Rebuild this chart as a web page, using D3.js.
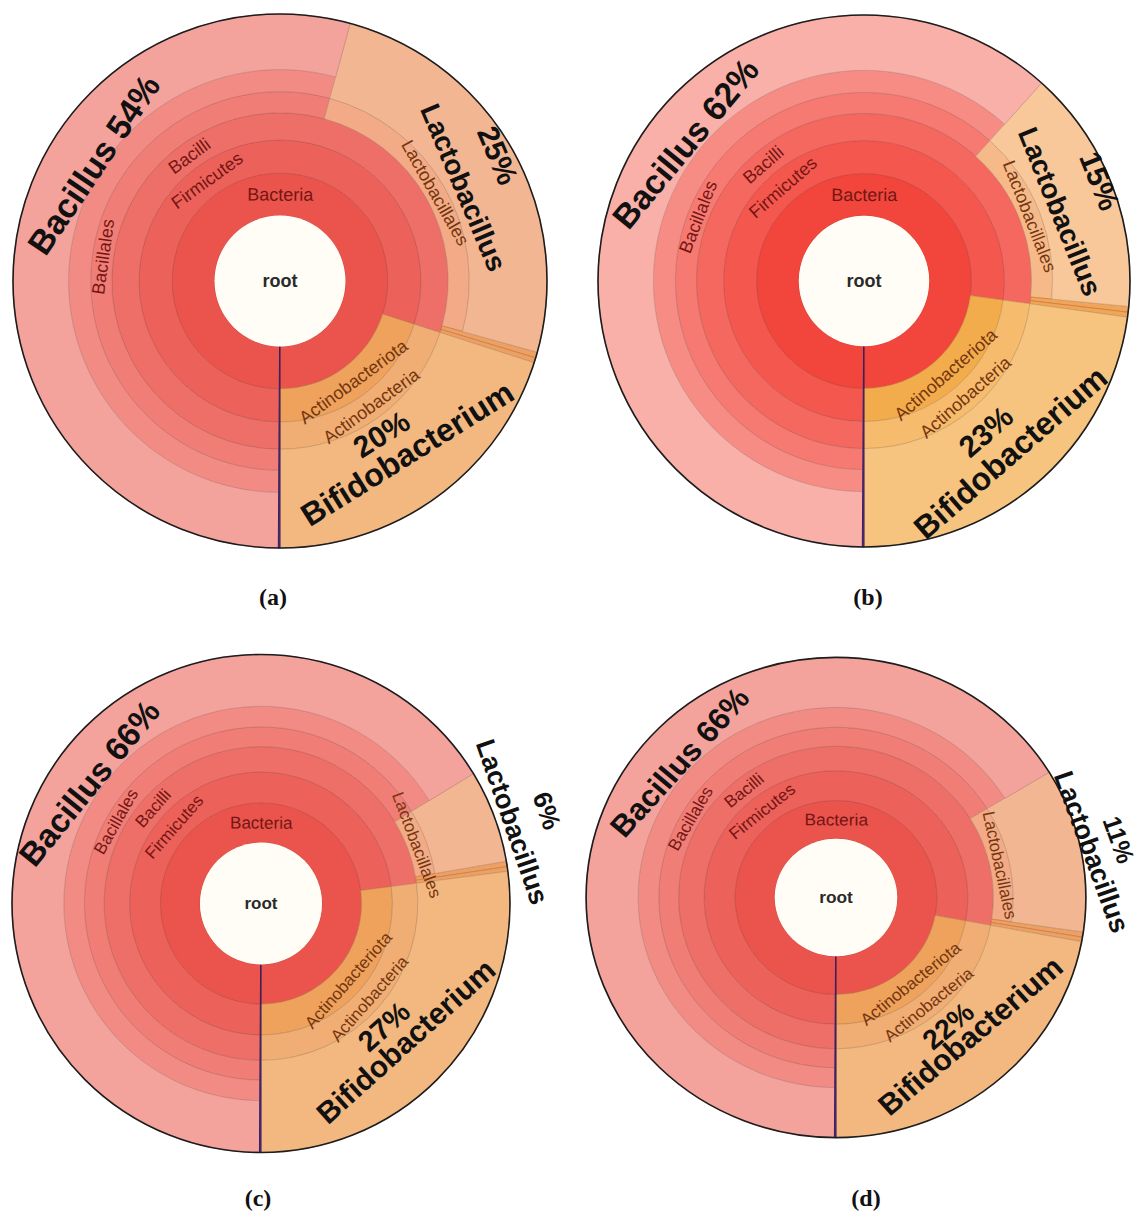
<!DOCTYPE html>
<html>
<head>
<meta charset="utf-8">
<script src="https://cdn.jsdelivr.net/npm/d3@7"></script>
<style>
  body { margin: 0; background: #fff; }
  svg { display: block; }
</style>
</head>
<body>
<svg id="chart" width="1139" height="1219"></svg>
<script>
// ---- data: relative abundance (%) of the dominant genera per sample ----
const samples = ["(a)", "(b)", "(c)", "(d)"];
const genera = ["Bacillus", "Lactobacillus", "Bifidobacterium"];
const bacillusPct = [54, 62, 66, 66];
const lactobacillusPct = [25, 15, 6, 11];
const bifidobacteriumPct = [20, 23, 27, 22];
// thin unlabelled slivers: two minor Bacilli orders, one unassigned read group
const minorBacilliPct = [[0.35, 0.3], [0.35, 0.3], [0.35, 0.3], [0.35, 0.3]];
const unassignedPct = [0.1, 0.1, 0.1, 0.1];

// ---- taxonomy (ranks shown in each wedge) ----
const lineageBacillus = ["Bacteria", "Firmicutes", "Bacilli", "Bacillales", "Bacillaceae", "Bacillus"];
const lineageLactobacillus = ["Bacteria", "Firmicutes", "Bacilli", "Lactobacillales", "Lactobacillus"];
const lineageBifidobacterium = ["Bacteria", "Actinobacteriota", "Actinobacteria", "Bifidobacterium"];
const lineageMinorBacilli = [
  ["Bacteria", "Firmicutes", "Bacilli", "minor order 1"],
  ["Bacteria", "Firmicutes", "Bacilli", "minor order 2"]
];
const lineageUnassigned = ["unassigned"];
const rankLabels = ["Bacteria", "Firmicutes", "Bacilli", "Bacillales", "Lactobacillales", "Actinobacteriota", "Actinobacteria"];

// ---- layout ----
// ring edges as fractions of the outer radius, indexed by depth
const ringEdges = [0.245, 0.404, 0.528, 0.63, 0.709, 0.792, 1.0];
const panelLayout = [
  { cx: 280, cy: 281,   R: 267, sx: 1,    sy: 1,    capX: 273, capY: 605,  scheme: "warm",   small: 18 },
  { cx: 864, cy: 281,   R: 266, sx: 1,    sy: 1,    capX: 868, capY: 605,  scheme: "bright", small: 18 },
  { cx: 261, cy: 903.5, R: 249, sx: 1,    sy: 1,    capX: 258, capY: 1206, scheme: "warm",   small: 17 },
  { cx: 836, cy: 897.5, R: 245, sx: 1.02, sy: 0.98, capX: 866, capY: 1206, scheme: "warm",   small: 17 }
];
// genus call-outs: [genus index, part, angle (deg), radius fraction, rotation (deg), font size]
const calloutLayout = [
  [[0, "both", -58, 0.82, -56, 34], [1, "pct", 60, 0.94, 67, 30], [1, "name", 63, 0.77, 67, 28],
   [2, "pct", 146.5, 0.69, -32, 30], [2, "name", 143.6, 0.805, -32, 32]],
  [[0, "both", -52.4, 0.845, -50.5, 34], [1, "pct", 67, 0.96, 68, 30], [1, "name", 70.5, 0.78, 68, 28],
   [2, "pct", 141, 0.73, -41, 30], [2, "name", 139.5, 0.85, -41, 32]],
  [[0, "both", -55, 0.84, -51, 33], [1, "pct", 72, 1.206, 71, 26], [1, "name", 72, 1.06, 71, 27],
   [2, "pct", 135, 0.70, -42, 29], [2, "name", 133.6, 0.805, -42, 30]],
  [[0, "both", -48, 0.84, -49, 31], [1, "pct", 78, 1.155, 71, 25], [1, "name", 79.5, 1.04, 70.5, 27],
   [2, "pct", 140, 0.70, -41, 28], [2, "name", 137, 0.79, -41, 30]]
];

// ---- colours ----
const schemes = {
  warm: {
    Bacteria: "#ea544c", Firmicutes: "#ec6159", Bacilli: "#ee6f67", Bacillales: "#f07e77",
    Bacillaceae: "#f28b84", Bacillus: "#f4a39c", Lactobacillales: "#f2ab86", Lactobacillus: "#f3b692",
    "minor order 1": "#eba066", "minor order 2": "#eba066",
    Actinobacteriota: "#eea25b", Actinobacteria: "#f0ad74", Bifidobacterium: "#f2b880",
    unassigned: "#5b2f7a"
  },
  bright: {
    Bacteria: "#f2463c", Firmicutes: "#f4574d", Bacilli: "#f5685f", Bacillales: "#f67a72",
    Bacillaceae: "#f78c84", Bacillus: "#f9b0a8", Lactobacillales: "#f6ba8a", Lactobacillus: "#f8c79a",
    "minor order 1": "#efa55a", "minor order 2": "#efa55a",
    Actinobacteriota: "#f3ac4c", Actinobacteria: "#f6bb6c", Bifidobacterium: "#f7c47f",
    unassigned: "#5b2f7a"
  }
};
const orangeSide = new Set(["Lactobacillales", "Lactobacillus", "Actinobacteriota", "Actinobacteria",
  "Bifidobacterium", "minor order 1", "minor order 2"]);

function buildTree(i) {
  const root = { name: "root", children: [] };
  const add = (path, value) => {
    let node = root;
    path.forEach(n => {
      let c = node.children.find(d => d.name === n);
      if (!c) { c = { name: n, children: [] }; node.children.push(c); }
      node = c;
    });
    node.value = value;
  };
  add(lineageUnassigned, unassignedPct[i]);
  add(lineageBacillus, bacillusPct[i]);
  add(lineageLactobacillus, lactobacillusPct[i]);
  lineageMinorBacilli.forEach((p, k) => add(p, minorBacilliPct[i][k]));
  add(lineageBifidobacterium, bifidobacteriumPct[i]);
  return root;
}

const svg = d3.select("#chart");
const toRad = d => d * Math.PI / 180;

samples.forEach((sample, i) => {
  const L = panelLayout[i];
  const col = schemes[L.scheme];
  const R = L.R;
  const g = svg.append("g").attr("transform", `translate(${L.cx},${L.cy}) scale(${L.sx},${L.sy})`);

  const hier = d3.hierarchy(buildTree(i)).sum(d => d.value || 0);
  d3.partition().size([2 * Math.PI, 1])(hier);

  const inner = d => ringEdges[d.depth - 1] * R;
  const outer = d => (d.children ? ringEdges[d.depth] : 1) * R;
  const arc = d3.arc()
    .startAngle(d => Math.PI + d.x0)
    .endAngle(d => Math.PI + d.x1)
    .innerRadius(inner)
    .outerRadius(outer);

  const nodes = hier.descendants().filter(d => d.depth > 0)
    .sort((a, b) => (a.data.name === "unassigned") - (b.data.name === "unassigned") || a.depth - b.depth);

  g.selectAll("path.node")
    .data(nodes)
    .join("path")
    .attr("class", "node")
    .attr("d", arc)
    .attr("fill", d => col[d.data.name])
    .attr("stroke", d => d.data.name === "unassigned" ? "#3b1f5e"
      : (d.data.name.startsWith("minor") ? "#cf7631" : d3.color(col[d.data.name]).darker(0.6)))
    .attr("stroke-width", d => d.data.name === "unassigned" ? 1 : 0.9)
    .attr("stroke-opacity", d => d.data.name === "unassigned" ? 1 : 0.75);

  // outer rim
  g.append("circle").attr("r", R).attr("fill", "none").attr("stroke", "#1d1d1d").attr("stroke-width", 1.6);

  // root disc
  g.append("circle").attr("r", ringEdges[0] * R).attr("fill", "#fffdf6");
  g.append("text").text("root")
    .attr("text-anchor", "middle").attr("dy", "0.35em")
    .style("font", `600 ${L.small}px 'Liberation Sans', Arial, sans-serif`)
    .attr("fill", "#2a2a2a");

  // rank labels, tangential at each wedge's mid-angle
  const labelled = nodes.filter(d => rankLabels.includes(d.data.name));
  g.selectAll("text.rank")
    .data(labelled)
    .join("text")
    .attr("class", "rank")
    .attr("transform", d => {
      const a = Math.PI + (d.x0 + d.x1) / 2;
      const r = (inner(d) + ringEdges[d.depth] * R) / 2;
      let deg = a * 180 / Math.PI;
      while (deg > 180) deg -= 360;
      const rot = deg > 90 ? deg - 180 : (deg < -90 ? deg + 180 : deg);
      return `translate(${r * Math.sin(a)},${-r * Math.cos(a)}) rotate(${rot})`;
    })
    .attr("text-anchor", "middle").attr("dy", "0.35em")
    .style("font", `${L.small}px 'Liberation Sans', Arial, sans-serif`)
    .attr("fill", d => orangeSide.has(d.data.name) ? "#74360f" : "#741614")
    .text(d => d.data.name);

  // genus call-outs built from the abundance values
  const pcts = [bacillusPct[i], lactobacillusPct[i], bifidobacteriumPct[i]];
  g.selectAll("text.callout")
    .data(calloutLayout[i])
    .join("text")
    .attr("class", "callout")
    .attr("transform", ([, , ang, rf, rot]) => {
      const a = toRad(ang), r = rf * R;
      return `translate(${r * Math.sin(a)},${-r * Math.cos(a)}) rotate(${rot})`;
    })
    .attr("text-anchor", "middle").attr("dy", "0.33em")
    .style("font", ([, , , , , s]) => `bold ${s}px 'Liberation Sans', Arial, sans-serif`)
    .attr("fill", "#111")
    .text(([k, part]) => part === "both" ? `${genera[k]} ${pcts[k]}%`
      : part === "pct" ? `${pcts[k]}%` : genera[k]);

  // panel caption
  svg.append("text")
    .attr("x", L.capX).attr("y", L.capY)
    .attr("text-anchor", "middle")
    .style("font", "bold 24px 'Liberation Serif', 'Times New Roman', serif")
    .attr("fill", "#111")
    .text(sample);
});
</script>
</body>
</html>
